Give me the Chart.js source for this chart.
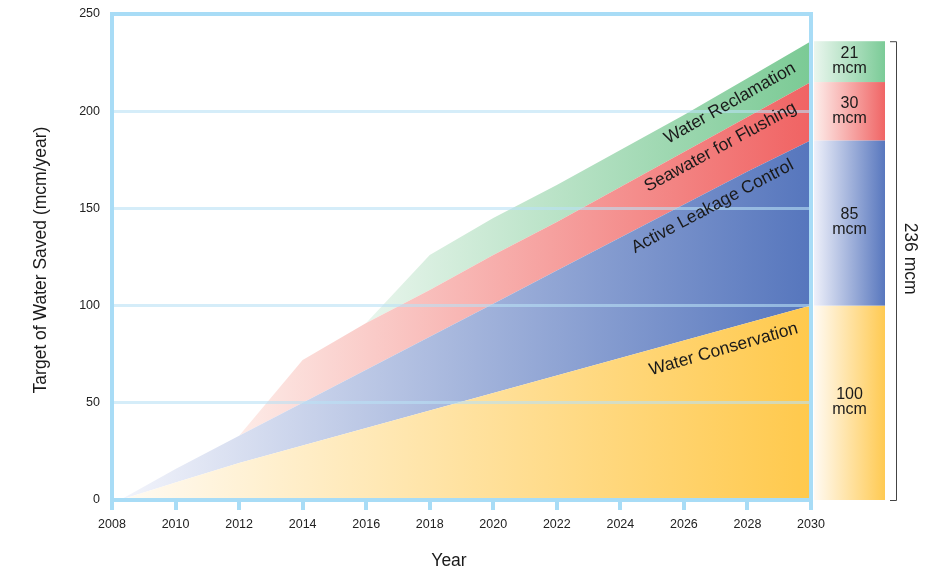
<!DOCTYPE html>
<html>
<head>
<meta charset="utf-8">
<script src="https://cdn.jsdelivr.net/npm/chart.js@4.4.1/dist/chart.umd.min.js"></script>
<style>
html, body { margin: 0; padding: 0; background: #fff; }
</style>
</head>
<body>
<canvas id="chart" width="928" height="572"></canvas>
<script>
/*-------------------------------------------------------------------------*/
// Data (mcm/year, stacked)
/*-------------------------------------------------------------------------*/
var years = [2008.25, 2010, 2012, 2014, 2016, 2018, 2020, 2022, 2024, 2026, 2028, 2030];
var waterConservation = [0, 9, 19, 28, 37, 46, 55, 64, 73, 82, 91, 100];
var activeLeakageControl = [0, 7, 14, 22, 30, 38, 46, 54, 62, 70, 78, 85];
var seawaterForFlushing = [0, 0, 0, 22, 24, 24, 25, 25, 26, 27, 28, 30];
var waterReclamation = [0, 0, 0, 0, 0, 18, 19, 19, 19, 19, 20, 21];

var seriesNames = ['Water Conservation', 'Active Leakage Control', 'Seawater for Flushing', 'Water Reclamation'];
var targets2030 = [100, 85, 30, 21];
var targetTotal = '236 mcm';

var xTickValues = [2008, 2010, 2012, 2014, 2016, 2018, 2020, 2022, 2024, 2026, 2028, 2030];
var yTickValues = [0, 50, 100, 150, 200, 250];

/*-------------------------------------------------------------------------*/
// Styles
/*-------------------------------------------------------------------------*/
var FONT = "'Liberation Sans', Arial, Helvetica, sans-serif";
var frameColor = '#a8dcf6';
var gridColor = 'rgba(185,225,245,0.6)';

// [start year of gradient, light colour, full colour]
var fills = [
	[2008, '#fffbf5', '#ffc94c'],
	[2008, '#f5f6fc', '#5676bd'],
	[2012, '#fdebe7', '#f06363'],
	[2016, '#e8f5ec', '#7bca95']
];
var sideFills = [
	['#fffaf3', '#ffca52'],
	['#eef0fa', '#5877be'],
	['#fdeeeb', '#f06565'],
	['#eaf6ee', '#7bcb97']
];
// label anchors in data units (centre of the text)
var areaLabels = [
	{ x: 2027.25, y: 77.5, angle: -16 },
	{ x: 2026.9, y: 151, angle: -28 },
	{ x: 2027.15, y: 181.5, angle: -28.5 },
	{ x: 2027.45, y: 204, angle: -29.5 }
];

function hGradient(context, i) {
	var chart = context.chart;
	var area = chart.chartArea;
	if (!area) return fills[i][2];
	var x0 = chart.scales.x.getPixelForValue(fills[i][0]);
	var g = chart.ctx.createLinearGradient(x0, 0, area.right, 0);
	g.addColorStop(0, fills[i][1]);
	g.addColorStop(1, fills[i][2]);
	return g;
}

function points(values) {
	return years.map(function (yr, i) { return { x: yr, y: values[i] }; });
}

var seriesValues = [waterConservation, activeLeakageControl, seawaterForFlushing, waterReclamation];
var datasets = seriesValues.map(function (vals, i) {
	return {
		label: seriesNames[i],
		data: points(vals),
		fill: i === 0 ? 'origin' : '-1',
		backgroundColor: function (ctx) { return hGradient(ctx, i); },
		borderWidth: 0,
		pointRadius: 0,
		tension: 0
	};
});

/*-------------------------------------------------------------------------*/
// Extras: frame, 2030 bar, bracket, labels, titles
/*-------------------------------------------------------------------------*/
var extras = {
	id: 'extras',
	afterDraw: function (chart) {
		var ctx = chart.ctx;
		var a = chart.chartArea;
		var xs = chart.scales.x, ys = chart.scales.y;
		ctx.save();

		// frame
		ctx.strokeStyle = frameColor;
		ctx.lineWidth = 4;
		ctx.strokeRect(a.left, a.top, a.right - a.left, a.bottom - a.top);

		// 2030 target bar
		var bx0 = a.right + 3, bx1 = a.right + 74;
		var base = 0;
		ctx.textAlign = 'center';
		ctx.textBaseline = 'middle';
		ctx.font = '16px ' + FONT;
		targets2030.forEach(function (v, i) {
			var yb = ys.getPixelForValue(base);
			var yt = ys.getPixelForValue(base + v);
			var g = ctx.createLinearGradient(bx0, 0, bx1, 0);
			g.addColorStop(0, sideFills[i][0]);
			g.addColorStop(1, sideFills[i][1]);
			ctx.fillStyle = g;
			ctx.fillRect(bx0, yt, bx1 - bx0, yb - yt);
			var cx = (bx0 + bx1) / 2, cy = (yt + yb) / 2;
			ctx.fillStyle = '#1a1a1a';
			ctx.fillText(String(v), cx, cy - 8);
			ctx.fillText('mcm', cx, cy + 7);
			base += v;
		});

		// bracket
		var top = ys.getPixelForValue(base), bot = ys.getPixelForValue(0);
		var lx = a.right + 85;
		ctx.strokeStyle = '#444';
		ctx.lineWidth = 1;
		ctx.beginPath();
		ctx.moveTo(lx - 6, top + 0.5); ctx.lineTo(lx + 0.5, top + 0.5);
		ctx.lineTo(lx + 0.5, bot + 0.5); ctx.lineTo(lx - 6, bot + 0.5);
		ctx.stroke();
		ctx.save();
		ctx.translate(lx + 14, (top + bot) / 2 - 12);
		ctx.rotate(Math.PI / 2);
		ctx.fillStyle = '#1a1a1a';
		ctx.font = '17.5px ' + FONT;
		ctx.fillText(targetTotal, 0, 0);
		ctx.restore();

		// area labels
		ctx.font = '17.5px ' + FONT;
		ctx.fillStyle = '#1a1a1a';
		areaLabels.forEach(function (l, i) {
			ctx.save();
			ctx.translate(xs.getPixelForValue(l.x), ys.getPixelForValue(l.y));
			ctx.rotate(l.angle * Math.PI / 180);
			ctx.fillText(seriesNames[i], 0, 0);
			ctx.restore();
		});

		// axis titles
		ctx.font = '17.5px ' + FONT;
		ctx.fillStyle = '#1a1a1a';
		ctx.fillText('Year', 449, 561);
		ctx.save();
		ctx.translate(41, 260);
		ctx.rotate(-Math.PI / 2);
		ctx.fillText('Target of Water Saved (mcm/year)', 0, 0);
		ctx.restore();

		ctx.restore();
	}
};

new Chart(document.getElementById('chart'), {
	type: 'line',
	data: { datasets: datasets },
	options: {
		responsive: false,
		animation: false,
		devicePixelRatio: 1,
		layout: { padding: { left: 0, right: 117, top: 14, bottom: 0 } },
		plugins: { legend: { display: false }, tooltip: { enabled: false } },
		scales: {
			x: {
				type: 'linear',
				min: 2008,
				max: 2030,
				afterFit: function (s) { s.height = 72; s.paddingLeft = 0; s.paddingRight = 0; },
				afterBuildTicks: function (s) { s.ticks = xTickValues.map(function (v) { return { value: v }; }); },
				ticks: {
					autoSkip: false,
					maxRotation: 0,
					padding: 7,
					color: '#222',
					font: { family: FONT, size: 12.5 },
					callback: function (v) { return String(v); }
				},
				grid: { drawOnChartArea: false, drawTicks: true, tickLength: 10, color: frameColor, lineWidth: 4 },
				border: { display: false }
			},
			y: {
				stacked: true,
				min: 0,
				max: 250,
				afterFit: function (s) { s.width = 112; s.paddingTop = 0; s.paddingBottom = 0; },
				afterBuildTicks: function (s) { s.ticks = yTickValues.map(function (v) { return { value: v }; }); },
				ticks: {
					padding: 12,
					color: '#222',
					font: { family: FONT, size: 12.5 }
				},
				grid: { z: 1, color: gridColor, lineWidth: 3, drawTicks: false },
				border: { display: false }
			}
		}
	},
	plugins: [extras]
});
</script>
</body>
</html>
